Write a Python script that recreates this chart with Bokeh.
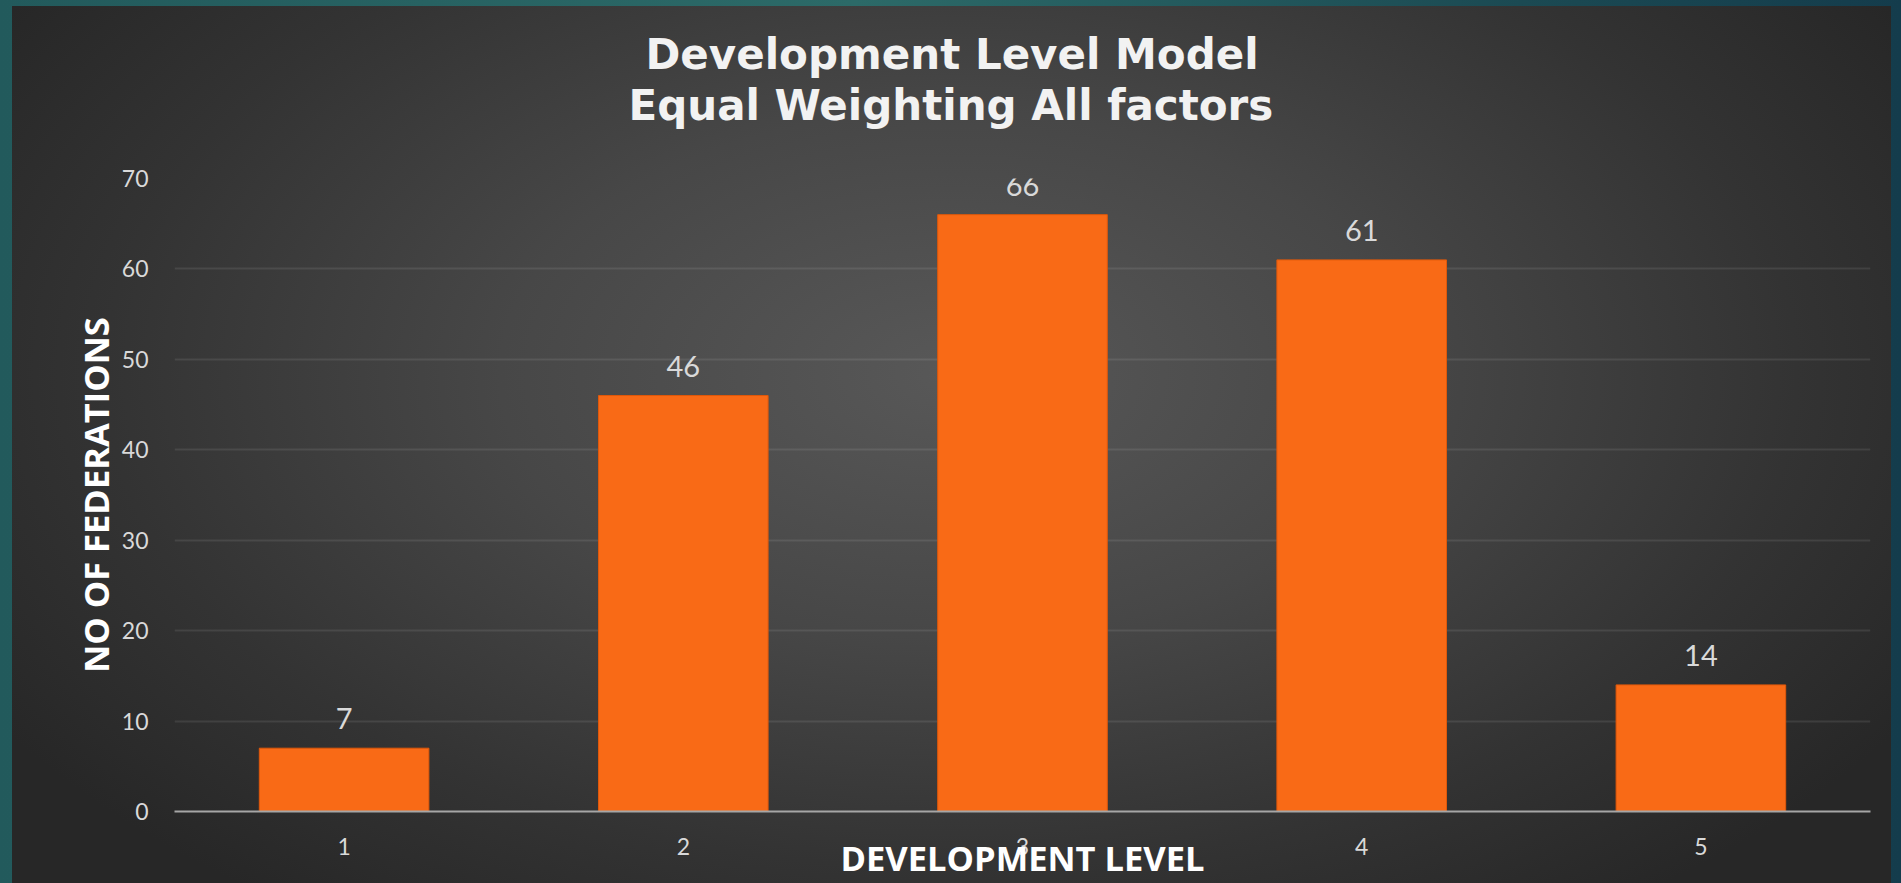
from bokeh.plotting import figure
from bokeh.layouts import column
from bokeh.models import ColumnDataSource, LabelSet, Range1d, SingleIntervalTicker, Title
from bokeh.core.properties import value
from bokeh.embed import file_html
from bokeh.resources import INLINE

# ---- data ----
levels = ["1", "2", "3", "4", "5"]
federations = [7, 46, 66, 61, 14]
title_line1 = "Development Level Model"
title_line2 = "Equal Weighting All factors"
x_title = "DEVELOPMENT LEVEL"
y_title = "NO OF FEDERATIONS"

BAR = "#f96a16"
TXT = "#d9d9d9"

src = ColumnDataSource(dict(level=levels, count=federations,
                            label=[str(v) for v in federations]))

p = figure(x_range=levels, y_range=Range1d(0, 70), width=1879, height=877,
           output_backend="svg", toolbar_location=None, title=title_line1,
           min_border_left=162, min_border_right=21, min_border_top=172,
           min_border_bottom=71)
p.background_fill_color = None
p.border_fill_color = None
p.outline_line_color = None
p.margin = (6, 10, 0, 12)
p.styles = {"background": "radial-gradient(ellipse 60% 75% at 50% 42%, #585858 0%, #474747 40%, #333333 75%, #272727 100%)"}

p.vbar(x="level", top="count", width=0.5, source=src, fill_color=BAR,
       line_color="#e0580a", line_width=1)

labels = LabelSet(x="level", y="count", text="label", source=src, y_offset=19,
                  text_align="center", text_baseline="alphabetic",
                  text_font_size="29px", text_font=value("Lato"), text_color=TXT)
p.add_layout(labels)

# two-line title: spacer (closest to frame), then line 2, then p.title (line 1, outermost)
def style_title(t, offset, standoff):
    t.align = "left"
    t.offset = offset
    t.standoff = standoff
    t.text_font = "DejaVu Sans"
    t.text_font_style = "bold"
    t.text_font_size = "42px"
    t.text_color = "#f2f2f2"

spacer = Title(text=" ", text_font_size="1px", standoff=46)
p.add_layout(spacer, "above")
t2 = Title(text=title_line2)
style_title(t2, 454, 0)
p.add_layout(t2, "above")
style_title(p.title, 471, 0)

# axes
p.xaxis.axis_label = x_title
p.yaxis.axis_label = y_title
for ax in (p.xaxis[0], p.yaxis[0]):
    ax.axis_label_text_font = "Open Sans"
    ax.axis_label_text_font_style = "bold"
    ax.axis_label_text_font_size = "34.5px"
    ax.axis_label_text_color = "#ffffff"
    ax.major_label_text_font = "Lato"
    ax.major_label_text_font_size = "23px"
    ax.major_label_text_color = TXT
    ax.major_tick_line_color = None
    ax.minor_tick_line_color = None
    ax.major_tick_out = 0
    ax.major_tick_in = 0

p.xaxis.axis_line_color = "#a6a6a6"
p.xaxis.axis_line_width = 2
p.xaxis.major_label_standoff = 26
p.xaxis.axis_label_standoff = -24
p.yaxis.axis_line_color = None
p.yaxis.ticker = SingleIntervalTicker(interval=10)
p.yaxis.major_label_standoff = 22
p.yaxis.axis_label_standoff = 0

p.xgrid.grid_line_color = None
p.ygrid.grid_line_color = "#ffffff"
p.ygrid.grid_line_alpha = 0.09
p.ygrid.grid_line_width = 2
p.x_range.range_padding = 0

page = column(p, styles={"background": "linear-gradient(90deg, #225a5c 0%, #2c6a68 45%, #1b4a53 80%, #143c4c 100%)"})

open("out.html", "w").write(file_html(page, INLINE))
